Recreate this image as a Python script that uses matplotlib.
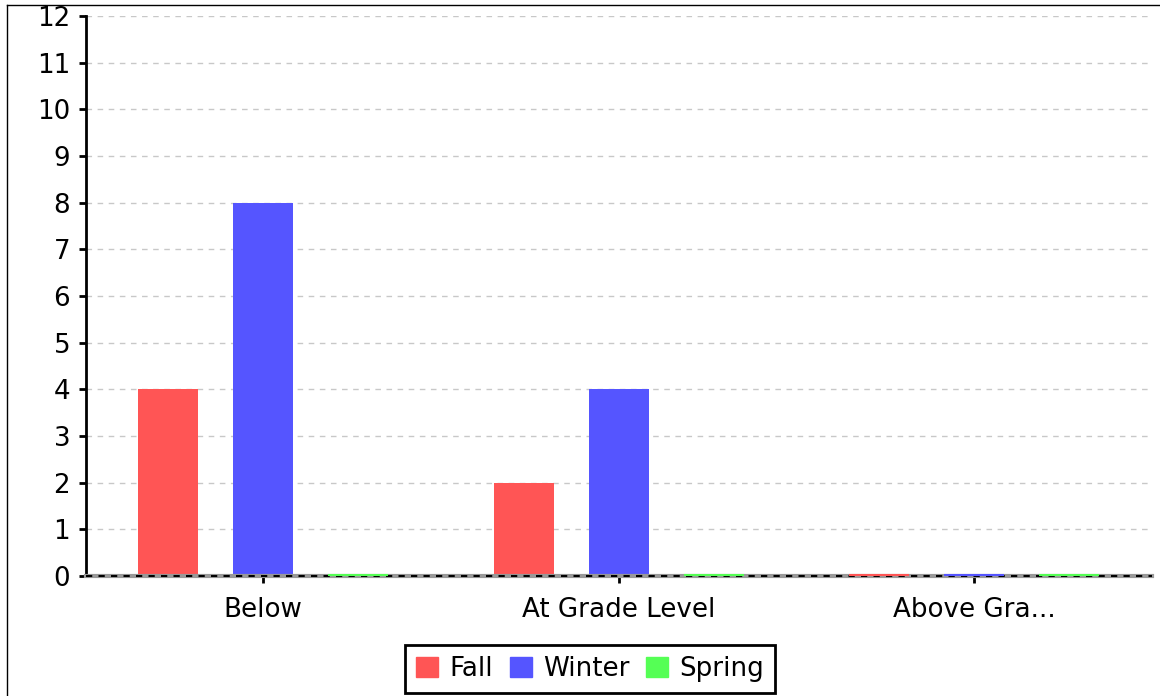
import matplotlib
matplotlib.use("Agg")
import matplotlib.pyplot as plt
import numpy as np
from matplotlib.lines import Line2D

categories = ["Below", "At Grade Level", "Above Gra..."]
series_names = ["Fall", "Winter", "Spring"]
fall = [4, 2, 0]
winter = [8, 4, 0]
spring = [0, 0, 0]
colors = ["#ff5555", "#5555ff", "#55ff55"]
yticks = list(range(0, 13))

FS = 18.8

fig = plt.figure(figsize=(11.6, 6.96), dpi=100)
ax = fig.add_axes([85.5 / 1160, 1 - 576 / 696, (1152 - 85.5) / 1160, (576 - 16) / 696])

x = np.arange(len(categories))
offsets = [-0.267, 0.0, 0.267]
width = 0.169

ax.axhline(0, color="#999999", lw=3, zorder=4, clip_on=False)
ax.axhline(0, color="black", lw=1.5, linestyle=(0, (3, 3)), zorder=4, clip_on=False)

for vals, off, c, name in zip([fall, winter, spring], offsets, colors, series_names):
    ax.bar(x + off, vals, width=width, color=c, label=name, zorder=3)
    for xi, v in zip(x, vals):
        if v == 0:
            ax.plot([xi + off - width / 2, xi + off + width / 2], [0.02, 0.02], color=c,
                    lw=1.5, zorder=6, clip_on=False, solid_capstyle="butt")

ax.set_xlim(-0.5, 2.5)
ax.set_ylim(0, 12)
ax.set_yticks(yticks)
ax.set_yticklabels([str(t) for t in yticks], fontsize=FS)
ax.set_xticks(x)
ax.set_xticklabels(categories, fontsize=FS)
ax.grid(axis="y", color="#c8c8c8", linestyle=(0, (4, 4)), lw=1, zorder=0)
for s in ["top", "right", "bottom"]:
    ax.spines[s].set_visible(False)
ax.spines["left"].set_linewidth(2)
ax.tick_params(axis="y", length=5, width=2, pad=6)
ax.tick_params(axis="x", length=5, width=2, pad=10)

handles = [plt.Rectangle((0, 0), 1, 1, color=c) for c in colors]
leg = fig.legend(handles, series_names, loc="center", bbox_to_anchor=(590 / 1160, 1 - 669 / 696),
                 ncol=3, fontsize=FS, frameon=True, fancybox=False, framealpha=1,
                 handlelength=0.85, handleheight=0.85, handletextpad=0.42,
                 columnspacing=0.65, borderpad=0.42)
leg.get_frame().set_edgecolor("black")
leg.get_frame().set_linewidth(2)

# figure border (left and top)
fig.add_artist(Line2D([7 / 1160, 7 / 1160], [0, 1 - 5 / 696], transform=fig.transFigure, color="black", lw=1))
fig.add_artist(Line2D([7 / 1160, 1], [1 - 5 / 696, 1 - 5 / 696], transform=fig.transFigure, color="black", lw=1))

fig.savefig("out.png", dpi=100)
